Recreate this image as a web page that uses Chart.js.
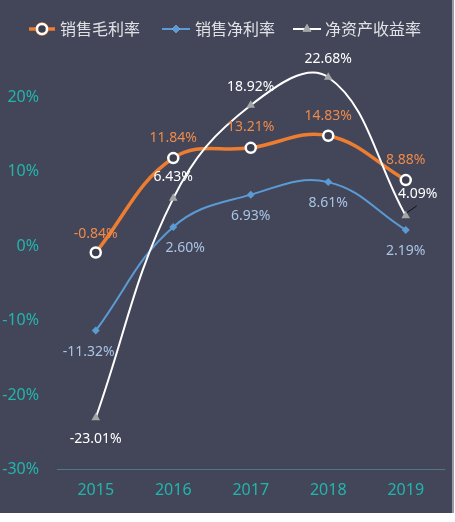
<!DOCTYPE html>
<html>
<head>
<meta charset="utf-8">
<script src="https://cdn.jsdelivr.net/npm/chart.js@4.4.1/dist/chart.umd.min.js"></script>
<style>
    html, body { margin: 0; padding: 0; background: #ffffff; }
    #wrap { position: absolute; left: 0; top: 0; width: 452px; height: 513px; background: #434659; border-right: 2px solid #9a9ca8; }
</style>
</head>
<body>
<div id="wrap"><canvas id="chart" width="452" height="513"></canvas></div>
<script>
const years = ['2015', '2016', '2017', '2018', '2019'];
const grossMargin = [-0.84, 11.84, 13.21, 14.83, 8.88];
const netMargin = [-11.32, 2.60, 6.93, 8.61, 2.19];
const roe = [-23.01, 6.43, 18.92, 22.68, 4.09];
const seriesNames = ['销售毛利率', '销售净利率', '净资产收益率'];
const yTicks = [-30, -20, -10, 0, 10, 20];

// label offsets (px) from each point
const labelOffsets = [
    [[0, -19], [0, -20], [0, -21], [0, -20], [0, -20]],
    [[-7, 21], [12, 21], [0, 21], [0, 21], [0, 21]],
    [[0, 21], [0, -21], [0, -18], [0, -18], [12, -22]]
];
const labelColors = ['#ee8a4a', '#a9c4e4', '#ffffff'];

const FONT = '"Noto Sans", "Noto Sans CJK SC", sans-serif';

// data labels drawn on top of the points
const pointLabels = {
    id: 'pointLabels',
    afterDatasetsDraw(chart) {
        const ctx = chart.ctx;
        ctx.save();
        ctx.font = '14px ' + FONT;
        ctx.textAlign = 'center';
        ctx.textBaseline = 'middle';
        chart.data.datasets.forEach((ds, i) => {
            const meta = chart.getDatasetMeta(i);
            meta.data.forEach((pt, j) => {
                const off = labelOffsets[i][j];
                if (i === 2 && j === 4) {
                    // small leader line
                    ctx.strokeStyle = '#111111';
                    ctx.lineWidth = 1;
                    ctx.beginPath();
                    ctx.moveTo(pt.x + 1, pt.y - 3);
                    ctx.lineTo(pt.x + 11, pt.y - 10);
                    ctx.stroke();
                }
                ctx.fillStyle = labelColors[i];
                ctx.fillText(ds.data[j].toFixed(2) + '%', pt.x + off[0], pt.y + off[1]);
            });
        });
        ctx.restore();
    }
};

// legend with line + marker samples
const customLegend = {
    id: 'customLegend',
    afterDraw(chart) {
        const ctx = chart.ctx;
        const items = [
            { x1: 29, x2: 55, tx: 60 },
            { x1: 162, x2: 190, tx: 195 },
            { x1: 293, x2: 321, tx: 325 }
        ];
        const y = 29;
        ctx.save();
        items.forEach((it, i) => {
            const ds = chart.data.datasets[i];
            ctx.strokeStyle = ds.borderColor;
            ctx.lineWidth = ds.borderWidth;
            ctx.beginPath();
            ctx.moveTo(it.x1, y);
            ctx.lineTo(it.x2, y);
            ctx.stroke();
            Chart.helpers.drawPoint(ctx, {
                pointStyle: ds.pointStyle,
                radius: ds.pointRadius,
                borderWidth: ds.pointBorderWidth,
                rotation: 0
            }, (it.x1 + it.x2) / 2, y);
            ctx.fillStyle = ds.pointBackgroundColor;
            ctx.strokeStyle = ds.pointBorderColor;
            ctx.lineWidth = ds.pointBorderWidth;
            ctx.fill();
            if (ds.pointBorderWidth) ctx.stroke();
            ctx.fillStyle = '#e2e2e6';
            ctx.font = '16px ' + FONT;
            ctx.textAlign = 'left';
            ctx.textBaseline = 'middle';
            ctx.fillText(seriesNames[i], it.tx, y + 1);
        });
        ctx.restore();
    }
};

new Chart(document.getElementById('chart'), {
    type: 'line',
    data: {
        labels: years,
        datasets: [
            {
                label: seriesNames[0],
                data: grossMargin,
                borderColor: '#ed7d31',
                borderWidth: 3.5,
                pointStyle: 'circle',
                pointRadius: 5,
                pointBackgroundColor: '#3b3e4e',
                pointBorderColor: '#ffffff',
                pointBorderWidth: 2.5,
                tension: 0.4,
                clip: false,
                order: 2
            },
            {
                label: seriesNames[1],
                data: netMargin,
                borderColor: '#5b9bd5',
                borderWidth: 2,
                pointStyle: 'rectRot',
                pointRadius: 4,
                pointBackgroundColor: '#5b9bd5',
                pointBorderColor: '#5b9bd5',
                pointBorderWidth: 0,
                tension: 0.4,
                clip: false,
                order: 3
            },
            {
                label: seriesNames[2],
                data: roe,
                borderColor: '#ffffff',
                borderWidth: 2,
                pointStyle: 'triangle',
                pointRadius: 5,
                pointBackgroundColor: '#a5a5a5',
                pointBorderColor: '#a5a5a5',
                pointBorderWidth: 0,
                tension: 0.4,
                clip: false,
                order: 1
            }
        ]
    },
    options: {
        responsive: false,
        animation: false,
        layout: { padding: { top: 60, right: 1, bottom: 10, left: 0 } },
        plugins: {
            legend: { display: false },
            tooltip: { enabled: false }
        },
        scales: {
            x: {
                offset: true,
                grid: { display: false },
                border: { display: true, color: '#4e7888', width: 1 },
                ticks: { color: '#22b5ad', font: { size: 16, family: FONT }, padding: 3 }
            },
            y: {
                min: -30,
                max: 25,
                grid: { display: false },
                border: { display: false },
                afterBuildTicks(scale) {
                    scale.ticks = yTicks.map(v => ({ value: v }));
                },
                afterFit(scale) { scale.width = 57; },
                ticks: {
                    color: '#22b5ad',
                    font: { size: 16, family: FONT },
                    padding: 10,
                    callback: v => v + '%'
                }
            }
        }
    },
    plugins: [pointLabels, customLegend]
});
</script>
</body>
</html>
